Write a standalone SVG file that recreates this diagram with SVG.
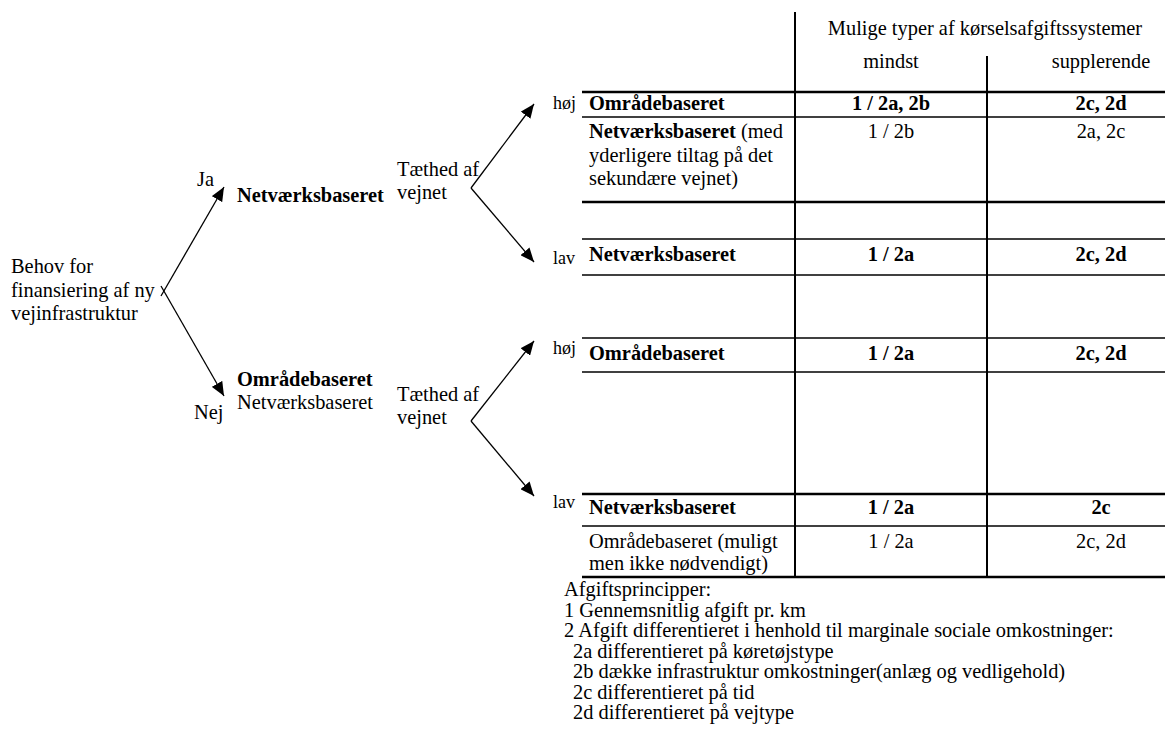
<svg xmlns="http://www.w3.org/2000/svg" width="1165" height="738" viewBox="0 0 1165 738">
<style>
text{font-family:"Liberation Serif","Times New Roman",serif;font-size:20.4px;fill:#000}
.b{font-weight:bold}
.m{text-anchor:middle}
.s{font-size:18px}
.thick{stroke:#000;stroke-width:2.6}
.thin{stroke:#000;stroke-width:1.6}
.v{stroke:#000;stroke-width:2}
.arr{stroke:#000;stroke-width:1.3;fill:none;marker-end:url(#ah)}
</style>
<defs>
<marker id="ah" markerUnits="userSpaceOnUse" markerWidth="14" markerHeight="12" refX="14" refY="6" orient="auto">
<path d="M0,0 L14,6 L0,12 z" fill="#000"/>
</marker>
</defs>
<rect width="1165" height="738" fill="#fff"/>

<g id="connectors">
<line class="arr" x1="161" y1="296" x2="224" y2="187"/>
<line class="arr" x1="161" y1="286" x2="224" y2="396"/>
<line class="arr" x1="471" y1="188" x2="534" y2="104"/>
<line class="arr" x1="471" y1="188" x2="534" y2="262"/>
<line class="arr" x1="471" y1="421" x2="534" y2="341"/>
<line class="arr" x1="471" y1="421" x2="534" y2="496"/>
</g>

<g id="root">
<text x="11" y="273">Behov for</text>
<text x="11" y="297">finansiering af ny</text>
<text x="11" y="320">vejinfrastruktur</text>
</g>
<g id="label-ja"><text x="197" y="186">Ja</text></g>
<g id="label-nej"><text x="194" y="419">Nej</text></g>
<g id="node-ja"><text class="b" x="237" y="202">Netværksbaseret</text></g>
<g id="node-nej">
<text class="b" x="237" y="386">Områdebaseret</text>
<text x="237" y="409">Netværksbaseret</text>
</g>
<g id="density-1">
<text x="397" y="176">Tæthed af</text>
<text x="397" y="199">vejnet</text>
</g>
<g id="density-2">
<text x="397" y="401">Tæthed af</text>
<text x="397" y="424">vejnet</text>
</g>
<g id="labels-hl">
<text class="s" x="553" y="109">høj</text>
<text class="s" x="553" y="264">lav</text>
<text class="s" x="553" y="354">høj</text>
<text class="s" x="553" y="508">lav</text>
</g>

<g id="table">
<line class="v" x1="795" y1="12" x2="795" y2="577"/>
<line class="v" x1="987" y1="56" x2="987" y2="577"/>
<line class="thick" x1="582" y1="92" x2="1165" y2="92"/>
<line class="thin" x1="582" y1="117" x2="1165" y2="117"/>
<line class="thick" x1="582" y1="202" x2="1165" y2="202"/>
<line class="thin" x1="582" y1="239" x2="1165" y2="239"/>
<line class="thin" x1="582" y1="275" x2="1165" y2="275"/>
<line class="thin" x1="582" y1="338" x2="1165" y2="338"/>
<line class="thin" x1="582" y1="372" x2="1165" y2="372"/>
<line class="thick" x1="582" y1="494" x2="1165" y2="494"/>
<line class="thin" x1="582" y1="526" x2="1165" y2="526"/>
<line class="thick" x1="582" y1="577" x2="1165" y2="577"/>
</g>
<g id="header">
<text class="m" x="985" y="35">Mulige typer af kørselsafgiftssystemer</text>
<text class="m" x="891" y="68">mindst</text>
<text class="m" x="1101" y="68">supplerende</text>
</g>
<g id="row1">
<text class="b" x="589" y="110">Områdebaseret</text>
<text class="b m" x="891" y="110">1 / 2a, 2b</text>
<text class="b m" x="1101" y="110">2c, 2d</text>
</g>
<g id="row2">
<text x="589" y="138"><tspan class="b">Netværksbaseret</tspan> (med</text>
<text x="589" y="162">yderligere tiltag på det</text>
<text x="589" y="185">sekundære vejnet)</text>
<text class="m" x="891" y="138">1 / 2b</text>
<text class="m" x="1101" y="138">2a, 2c</text>
</g>
<g id="row3">
<text class="b" x="589" y="261">Netværksbaseret</text>
<text class="b m" x="891" y="261">1 / 2a</text>
<text class="b m" x="1101" y="261">2c, 2d</text>
</g>
<g id="row4">
<text class="b" x="589" y="360">Områdebaseret</text>
<text class="b m" x="891" y="360">1 / 2a</text>
<text class="b m" x="1101" y="360">2c, 2d</text>
</g>
<g id="row5">
<text class="b" x="589" y="514">Netværksbaseret</text>
<text class="b m" x="891" y="514">1 / 2a</text>
<text class="b m" x="1101" y="514">2c</text>
</g>
<g id="row6">
<text x="589" y="548">Områdebaseret (muligt</text>
<text x="589" y="570">men ikke nødvendigt)</text>
<text class="m" x="891" y="548">1 / 2a</text>
<text class="m" x="1101" y="548">2c, 2d</text>
</g>
<g id="legend">
<text x="564" y="596">Afgiftsprincipper:</text>
<text x="564" y="617">1 Gennemsnitlig afgift pr. km</text>
<text x="564" y="637">2 Afgift differentieret i henhold til marginale sociale omkostninger:</text>
<text x="573" y="658">2a differentieret på køretøjstype</text>
<text x="573" y="678">2b dække infrastruktur omkostninger(anlæg og vedligehold)</text>
<text x="573" y="699">2c differentieret på tid</text>
<text x="573" y="719">2d differentieret på vejtype</text>
</g>
</svg>
